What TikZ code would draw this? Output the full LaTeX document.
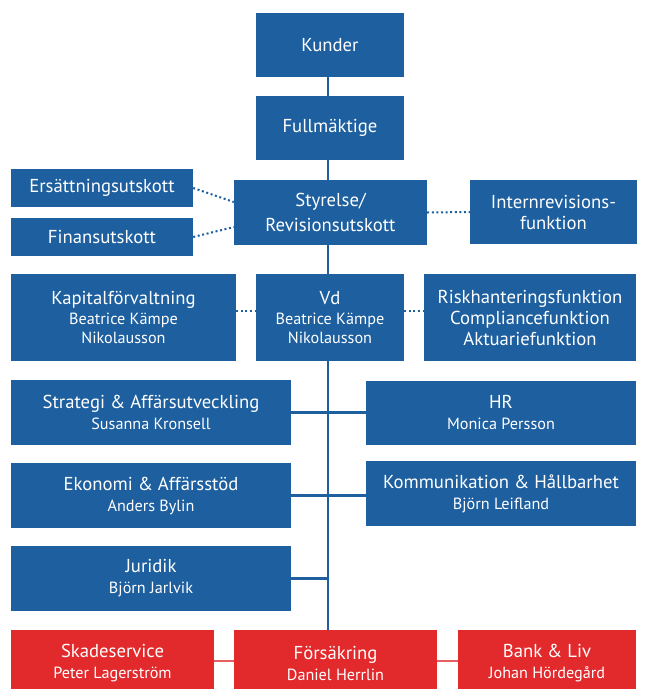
\documentclass[tikz,border=0pt]{standalone}
\usepackage{fontspec}
\setmainfont{PT Sans}
\definecolor{lfblue}{HTML}{1D5F9F}
\definecolor{lfred}{HTML}{E2292C}
\newcommand\titlefnt{\fontsize{18.7}{21}\selectfont}
\newcommand\namefnt{\fontsize{16.2}{19}\selectfont}
\begin{document}
\begin{tikzpicture}[x=1pt,y=-1pt,
  box/.style={fill=lfblue,text=white,inner sep=0pt,align=center,font=\titlefnt},
  rbox/.style={box,fill=lfred},
  conn/.style={draw=lfblue,line width=2.5pt},
  dots/.style={draw=lfblue,line width=2pt,dash pattern=on 2pt off 2.6pt},
  rconn/.style={draw=lfred!75,line width=2.5pt}]
\useasboundingbox[fill=white] (0,0) rectangle (645,689);
\coordinate (spine) at (328,0);

\node[box,minimum width=148,minimum height=64] (kunder) at (330,45) {Kunder};
\node[box,minimum width=148,minimum height=64] (fullm) at (330,128) {Fullmäktige};
\node[box,minimum width=193,minimum height=65] (styr) at (330.5,212.5) {Styrelse/\\[4pt]Revisionsutskott};
\node[box,minimum width=182,minimum height=38] (ers) at (102,188) {Ersättningsutskott};
\node[box,minimum width=182,minimum height=38] (fin) at (102,237) {Finansutskott};
\node[box,minimum width=167,minimum height=64] (intern) at (553.5,212) {Internrevisions-\\funktion};
\node[box,minimum width=225,minimum height=87] (kap) at (123.5,317.5) {Kapitalförvaltning\\[-1pt]\namefnt Beatrice Kämpe\\[-2pt]\namefnt Nikolausson};
\node[box,minimum width=148,minimum height=87] (vd) at (330,317.5) {Vd\\[-1pt]\namefnt Beatrice Kämpe\\[-2pt]\namefnt Nikolausson};
\node[box,minimum width=212,minimum height=87] (risk) at (530,317.5) {Riskhanteringsfunktion\\Compliancefunktion\\Aktuariefunktion};
\node[box,minimum width=280,minimum height=65] (strat) at (151,412.5) {Strategi \& Affärsutveckling\\\namefnt Susanna Kronsell};
\node[box,minimum width=270,minimum height=64] (hr) at (501,412.5) {HR\\\namefnt Monica Persson};
\node[box,minimum width=280,minimum height=65] (eko) at (151,495.5) {Ekonomi \& Affärsstöd\\\namefnt Anders Bylin};
\node[box,minimum width=270,minimum height=65] (komm) at (501,493.5) {Kommunikation \& Hållbarhet\\\namefnt Björn Leifland};
\node[box,minimum width=280,minimum height=65] (jur) at (151,578.5) {Juridik\\\namefnt Björn Jarlvik};
\node[rbox,minimum width=203,minimum height=66] (skade) at (112.5,663) {Skadeservice\\\namefnt Peter Lagerström};
\node[rbox,minimum width=203,minimum height=66] (fors) at (335.5,663) {Försäkring\\\namefnt Daniel Herrlin};
\node[rbox,minimum width=178,minimum height=66] (bank) at (547,663) {Bank \& Liv\\\namefnt Johan Hördegård};

\draw[conn] (kunder.south -| spine) -- (fullm.north -| spine);
\draw[conn] (fullm.south -| spine) -- (styr.north -| spine);
\draw[conn] (styr.south -| spine) -- (vd.north -| spine);
\draw[conn] (vd.south -| spine) -- (fors.north -| spine);
\draw[conn] (strat.east) -- (hr.west);
\draw[conn] (eko.east) -- (eko.east -| komm.west);
\draw[conn] (jur.east) -- (jur.east -| spine);

\draw[dots] (ers.east) -- ([yshift=10.5pt]styr.west);
\draw[dots] (fin.east) -- ([yshift=-14.5pt]styr.west);
\draw[dots] (styr.east) -- (intern.west);
\draw[dots] ([yshift=7pt]kap.east) -- ([yshift=7pt]vd.west);
\draw[dots] ([yshift=7pt]vd.east) -- ([yshift=7pt]risk.west);

\draw[rconn] ([yshift=2pt]skade.east) -- ([yshift=2pt]fors.west);
\draw[rconn] ([yshift=2pt]fors.east) -- ([yshift=2pt]bank.west);
\end{tikzpicture}
\end{document}
